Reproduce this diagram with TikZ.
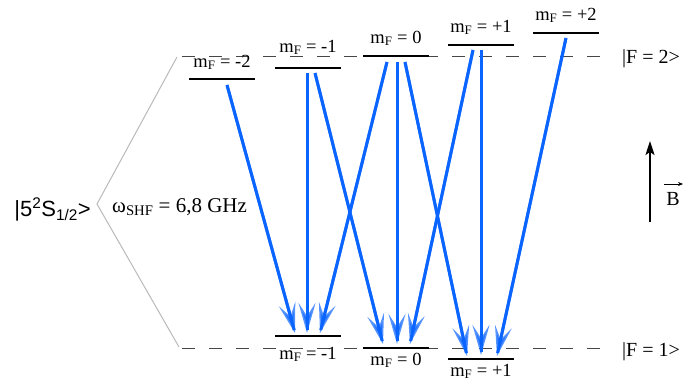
\documentclass[tikz,border=0pt]{standalone}
\usepackage{fontspec}
\setmainfont{Liberation Serif}
\newfontfamily\arialf{Liberation Sans}
\usetikzlibrary{arrows.meta,calc}
\definecolor{arr}{RGB}{10,100,255}
\definecolor{dashc}{RGB}{70,70,70}
\definecolor{brk}{RGB}{185,185,185}
\begin{document}
\begin{tikzpicture}[x=1pt,y=-1pt,
  lev/.style={fill=black,minimum width=66pt,minimum height=2pt,inner sep=0pt,outer sep=0pt},
  lab/.style={anchor=base,inner sep=0pt,font=\fontsize{18.5}{20}\selectfont},
  big/.style={inner sep=0pt,font=\fontsize{20}{22}\selectfont},
  dashline/.style={draw=dashc,line width=0.9pt,dash pattern=on 13pt off 14pt},
  trans/.style={draw=arr,line width=3pt,opacity=0.7,
    -{Stealth[length=30pt,width=17pt,inset=13pt]},
    postaction={draw=arr,opacity=1,-,shorten >=3pt}},
  barrow/.style={draw=black,line width=1.8pt,-{Stealth[length=14pt,width=9pt,inset=3pt]}},
  vecarrow/.style={draw=black,line width=0.7pt,-{Stealth[length=5pt,width=4pt]}}]
\useasboundingbox (0,0) rectangle (689,383);

% hyperfine dashed levels
\coordinate (d2a) at (182,56); \coordinate (d2b) at (606,56);
\coordinate (d1a) at (182,348); \coordinate (d1b) at (606,348);
\draw[dashline] (d2a) -- (d2b);
\draw[dashline] (d1a) -- (d1b);
\node[big,anchor=base west] (F2) at (622,63) {|F = 2>};
\node[big,anchor=base west] (F1) at (622,356) {|F = 1>};

% bracket
\coordinate (bt) at (177,57); \coordinate (bv) at (97,204); \coordinate (bb) at (179,347);
\draw[brk,line width=1pt] (bt) -- (bv) -- (bb);
\node[anchor=base east,inner sep=0pt,font=\arialf\fontsize{22}{24}\selectfont] (S) at (91,216)
  {|5\textsuperscript{2}S\textsubscript{1/2}>};
\node[anchor=base west,inner sep=0pt,font=\fontsize{21}{23}\selectfont] (W) at (112,212)
  {ω\textsubscript{SHF} = 6,8 GHz};

% Zeeman sublevels F=2
\node[lev] (Um2) at (222,79) {};
\node[lev] (Um1) at (308,68) {};
\node[lev] (U0)  at (396,56) {};
\node[lev] (Up1) at (481,45) {};
\node[lev] (Up2) at (566,33) {};
\node[lab] (tUm2) at (222,67) {m\textsubscript{F} = -2};
\node[lab] (tUm1) at (308,52) {m\textsubscript{F} = -1};
\node[lab] (tU0)  at (396,43) {m\textsubscript{F} = 0};
\node[lab] (tUp1) at (481,32) {m\textsubscript{F} = +1};
\node[lab] (tUp2) at (566,20) {m\textsubscript{F} = +2};

% Zeeman sublevels F=1
\node[lev] (Lm1) at (308,336) {};
\node[lev] (L0)  at (396,348) {};
\node[lev] (Lp1) at (481,359) {};
\node[lab] (tLm1) at (308,359) {m\textsubscript{F} = -1};
\node[lab] (tL0)  at (396,365) {m\textsubscript{F} = 0};
\node[lab] (tLp1) at (481,376) {m\textsubscript{F} = +1};

% start / end points of transitions
\coordinate (sm2)  at ($(Um2)+(5,6)$);
\coordinate (sm1a) at ($(Um1)+(-1,5)$);
\coordinate (sm1b) at ($(Um1)+(7,5)$);
\coordinate (s0a)  at ($(U0)+(-9,6)$);
\coordinate (s0b)  at ($(U0)+(1,6)$);
\coordinate (s0c)  at ($(U0)+(9,6)$);
\coordinate (sp1a) at ($(Up1)+(-8,5)$);
\coordinate (sp1b) at ($(Up1)+(0,5)$);
\coordinate (sp2)  at ($(Up2)+(0,5)$);
\coordinate (em1a) at ($(Lm1)+(-13,-3)$);
\coordinate (em1b) at ($(Lm1)+(-1,-3)$);
\coordinate (em1c) at ($(Lm1)+(12,-3)$);
\coordinate (e0a)  at ($(L0)+(-13,-4)$);
\coordinate (e0b)  at ($(L0)+(1,-4)$);
\coordinate (e0c)  at ($(L0)+(14,-4)$);
\coordinate (ep1a) at ($(Lp1)+(-14,-3)$);
\coordinate (ep1b) at ($(Lp1)+(0,-4)$);
\coordinate (ep1c) at ($(Lp1)+(16,-3)$);

\draw[trans] (sm2)  -- (em1a);
\draw[trans] (sm1a) -- (em1b);
\draw[trans] (sm1b) -- (e0a);
\draw[trans] (s0a)  -- (em1c);
\draw[trans] (s0b)  -- (e0b);
\draw[trans] (s0c)  -- (ep1a);
\draw[trans] (sp1a) -- (e0c);
\draw[trans] (sp1b) -- (ep1b);
\draw[trans] (sp2)  -- (ep1c);

% magnetic field
\coordinate (Bb) at (650,222); \coordinate (Bt) at (650,141);
\draw[barrow] (Bb) -- (Bt);
\node[anchor=base,inner sep=0pt,font=\fontsize{20}{22}\selectfont] (B) at (673,205) {B};
\coordinate (va) at (664,184); \coordinate (vb) at (683,184);
\draw[vecarrow] (va) -- (vb);
\end{tikzpicture}
\end{document}
